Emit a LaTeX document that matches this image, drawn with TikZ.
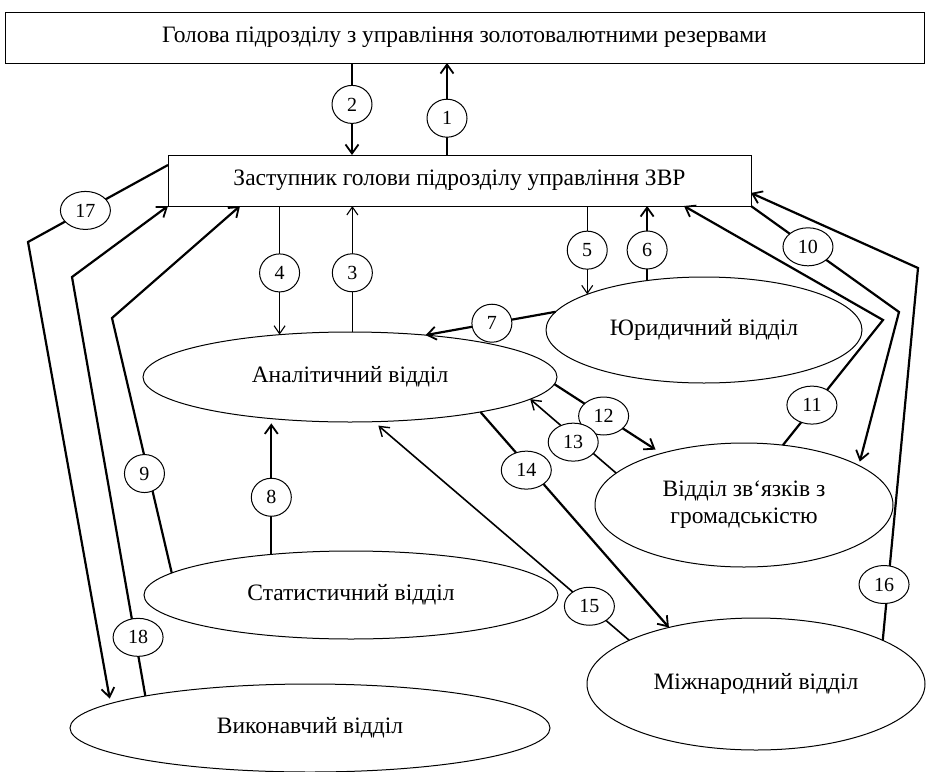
\documentclass[tikz,border=0pt]{standalone}
\usepackage{fontspec}
\setmainfont{Liberation Serif}
\usetikzlibrary{arrows.meta,shapes.geometric}
\begin{document}
\begin{tikzpicture}[x=1pt,y=-1pt,
  box/.style={draw,line width=1pt,inner sep=0pt,outer sep=0pt,font=\fontsize{23.5}{26}\selectfont},
  dept/.style={ellipse,draw,line width=1pt,inner sep=0pt,outer sep=0pt,font=\fontsize{23.5}{27}\selectfont,align=center},
  num/.style={ellipse,draw,fill=white,line width=1pt,minimum width=40pt,minimum height=38pt,inner sep=1pt,font=\fontsize{20}{22}\selectfont},
  numw/.style={num,minimum width=50pt},
  thk/.style={line width=2.2pt,-{Straight Barb[length=9pt,width=13pt,line width=1.8pt]}},
  mid/.style={line width=1.6pt,-{Straight Barb[length=9pt,width=12pt,line width=1.4pt]}},
  thn/.style={line width=1.1pt,-{Straight Barb[length=8pt,width=11pt,line width=1.1pt]}},
]
\useasboundingbox (0,0) rectangle (926,771);

% boxes
\node[box,minimum width=919pt,minimum height=51pt] (top) at (464.5,37.5) {Голова підрозділу з управління золотовалютними резервами};
\node[box,minimum width=583pt,minimum height=51pt] (zast) at (459.5,180.5) {Заступник голови підрозділу управління ЗВР};

% departments
\node[dept,minimum width=414pt,minimum height=90pt] (anal) at (350,377) {Аналітичний відділ};
\node[dept,minimum width=316pt,minimum height=106pt] (jur) at (704,330) {Юридичний відділ};
\node[dept,minimum width=298pt,minimum height=124pt] (zv) at (744,505) {Відділ зв`язків з\\громадськістю};
\node[dept,minimum width=414pt,minimum height=88pt] (stat) at (351,595) {Статистичний відділ};
\node[dept,minimum width=480pt,minimum height=88pt] (vyk) at (310,728) {Виконавчий відділ};
\node[dept,minimum width=338pt,minimum height=132pt] (mizh) at (756,684) {Міжнародний відділ};

% helper coordinates
\coordinate (x2) at (352,0);
\coordinate (x1) at (447,0);
\coordinate (b9) at (112,318);
\coordinate (b17) at (28,242);
\coordinate (b18) at (72,277);
\coordinate (b10) at (899,312);
\coordinate (b11) at (883,320);
\coordinate (b16) at (918,268);

% connectors
\draw[thk] (top.south -| x2) -- node[num,pos=0.45]{2} (zast.north -| x2);
\draw[thk] (zast.north -| x1) -- node[num,pos=0.4]{1} (top.south -| x1);
\draw[thn] (zast.south -| anal.149.6) -- node[num,pos=0.52]{4} (anal.149.6);
\draw[thn] (anal.87.5) -- node[num,pos=0.47]{3} (zast.south -| anal.87.5);
\draw[thn] (zast.south -| jur.163.1) -- node[num,pos=0.5]{5} (jur.163.1);
\draw[thk] (jur.139.3) -- node[num,pos=0.41]{6} (zast.south -| jur.139.3);
\draw[thk] (jur.173.1) -- node[num,pos=0.49]{7} (anal.29.9);
\draw[thk,shorten >=5pt] (stat.153.1) -- node[num,pos=0.42]{8} (stat.153.1 |- anal.207.8);
\draw[thk] (stat.173.7) -- node[num,pos=0.39,xshift=-4pt]{9} (b9) -- ([xshift=72pt]zast.south west);
\draw[thk,shorten >=4pt] (zast.south east) -- node[numw,pos=0.385]{10} (b10) -- (zv.19.3);
\draw[thk] (zv.57.3) -- node[numw,pos=0.32,xshift=-3pt]{11} (b11) -- ([xshift=-67pt]zast.south east);
\draw[thk,shorten >=7pt] (anal.-2) -- node[numw,pos=0.46]{12} (zv.148.4);
\draw[mid] (zv.166.3) -- node[numw,pos=0.5,yshift=-6pt]{13} (anal.-7.8);
\draw[thk] (anal.-15.3) -- node[numw,pos=0.27,xshift=-5pt]{14} (mizh.147.8);
\draw[mid,shorten >=6pt] (mizh.161.6) -- node[numw,pos=0.156]{15} (anal.-62.9);
\draw[thk] (mizh.19.25) -- node[numw,pos=0.15,xshift=-4pt]{16} (b16) -- ([yshift=-12.5pt]zast.east);
\draw[thk,shorten >=5pt] ([yshift=15.5pt]zast.west) -- node[numw,pos=0.59]{17} (b17) -- (vyk.173.3);
\draw[thk] (vyk.169.3) -- node[numw,pos=0.14,xshift=3pt]{18} (b18) -- (zast.south west);
\end{tikzpicture}
\end{document}
